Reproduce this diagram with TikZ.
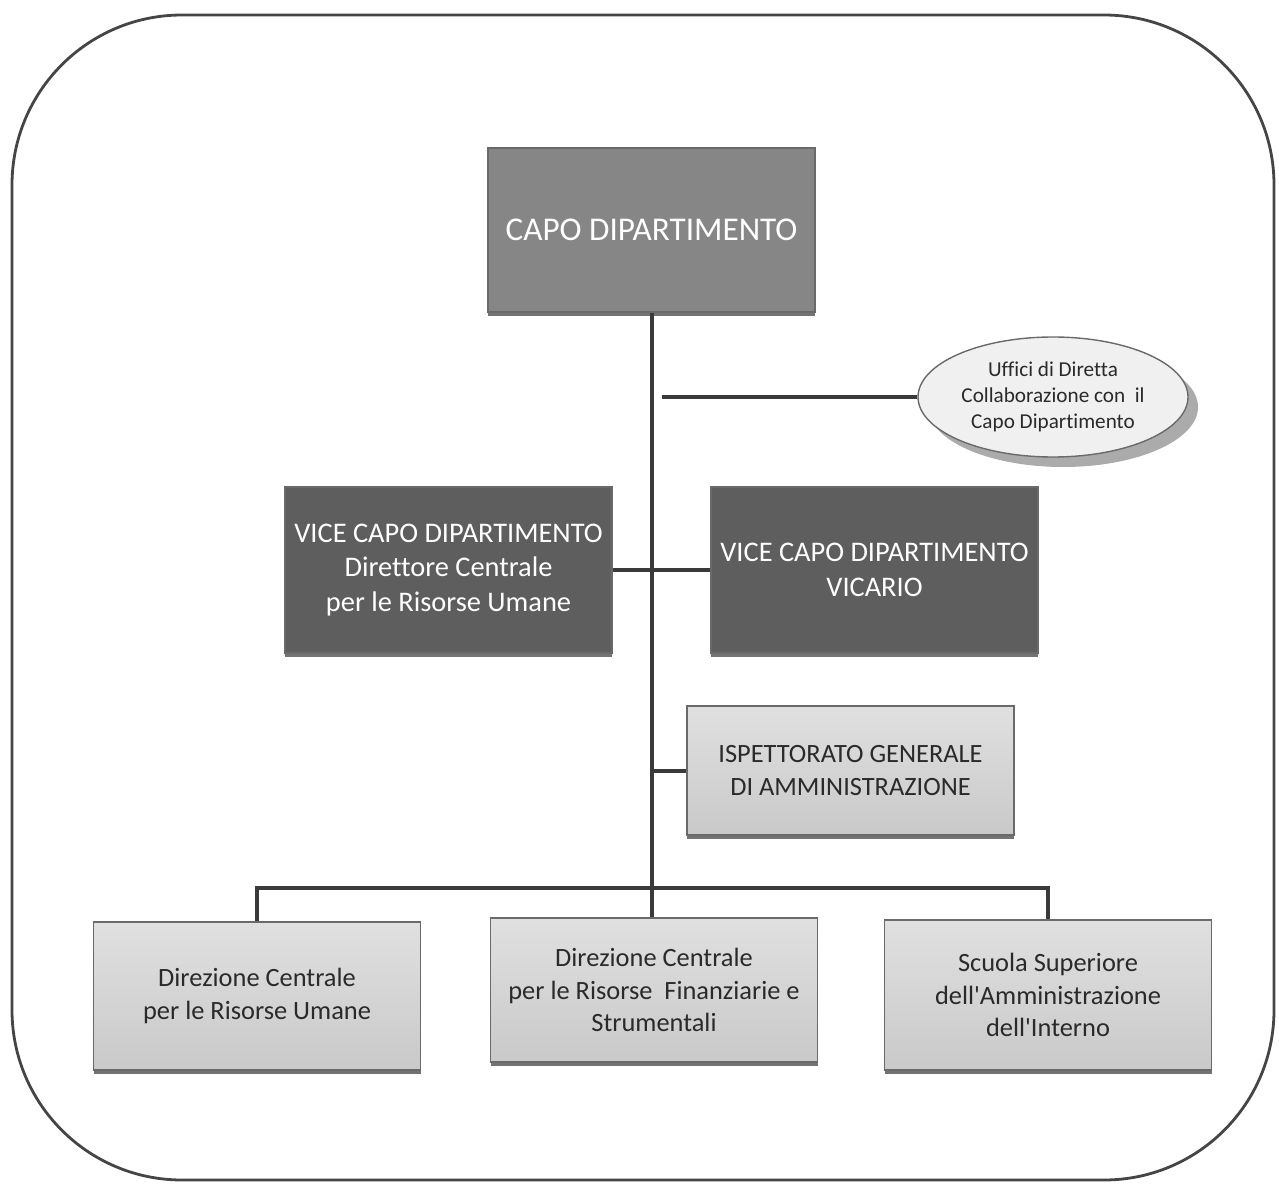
\documentclass[tikz,border=0pt]{standalone}
\usepackage{fontspec}
\setmainfont{Carlito}[Ligatures=NoCommon]
\usetikzlibrary{shapes.geometric,shadows}
\definecolor{linec}{HTML}{3A3A3A}
\definecolor{outerc}{HTML}{454545}
\definecolor{capofill}{HTML}{868686}
\definecolor{vicefill}{HTML}{5E5E5E}
\definecolor{lighttop}{HTML}{E0E0E0}
\definecolor{lightbot}{HTML}{C9C9C9}
\definecolor{boxedge}{HTML}{6A6A6A}
\definecolor{ellfill}{HTML}{F0F0F0}
\definecolor{darktext}{HTML}{2A2A2A}
\newcommand{\apos}{\XeTeXglyph\XeTeXcharglyph"27\relax}
\begin{document}
\begin{tikzpicture}[x=0.5pt,y=-0.5pt,
  conn/.style={draw=linec, line width=2pt},
  basebox/.style={rectangle, draw=boxedge, line width=0.7pt, align=center, inner sep=0pt,
    minimum width=163.5pt,
    drop shadow={shadow xshift=0pt, shadow yshift=-1.8pt, opacity=0.55, fill=black}},
  capobox/.style={basebox, fill=capofill, text=white, minimum height=82pt,
    font=\fontsize{16.6}{20}\selectfont},
  vicebox/.style={basebox, fill=vicefill, text=white, minimum height=83pt,
    font=\fontsize{14.2}{17.25}\selectfont},
  lightbox/.style={basebox, top color=lighttop, bottom color=lightbot, text=darktext,
    font=\fontsize{13.2}{16.4}\selectfont},
  ellnode/.style={ellipse, draw=boxedge, line width=0.7pt, fill=ellfill, align=center,
    inner sep=0pt, minimum width=135pt, minimum height=60pt, text=darktext,
    font=\fontsize{10.6}{13}\selectfont,
    drop shadow={shadow xshift=5pt, shadow yshift=-5pt, opacity=0.6, fill=black!55}}
]
\useasboundingbox (0,0) rectangle (1279,1187);
\draw[draw=outerc, line width=1.4pt, rounded corners=85pt] (12,15) rectangle (1274,1180);

\node[capobox] (capo) at (651.5,230) {CAPO DIPARTIMENTO};
\node[ellnode] (uff) at (1053,397) {Uffici di Diretta\\Collaborazione con\ \ il\\Capo Dipartimento};
\node[vicebox] (viceL) at (448.5,570) {VICE CAPO DIPARTIMENTO\\Direttore Centrale\\per le Risorse Umane};
\node[vicebox] (viceR) at (874.5,570) {VICE CAPO DIPARTIMENTO\\VICARIO};
\node[lightbox, minimum height=64.5pt] (isp) at (850.5,770.5) {ISPETTORATO GENERALE\\DI AMMINISTRAZIONE};
\node[lightbox, minimum height=74pt] (b1) at (257,996) {Direzione Centrale\\per le Risorse Umane};
\node[lightbox, minimum height=72pt] (b2) at (654,990) {Direzione Centrale\\per le Risorse\ \ Finanziarie e\\Strumentali};
\node[lightbox, minimum height=75pt] (b3) at (1048,995) {Scuola Superiore\\dell\apos Amministrazione\\dell\apos Interno};

\coordinate (bus) at (651,888);
\coordinate (uL) at (662,397);
\draw[conn] (capo.south) -- (capo.south |- b2.north);
\draw[conn] (uL) -- (uff.west);
\draw[conn] (viceL.east) -- (viceR.west);
\draw[conn] (capo.south |- isp.west) -- (isp.west);
\draw[conn] (b1.north) -- (b1.north |- bus) -- (b3.north |- bus) -- (b3.north);
\end{tikzpicture}
\end{document}
